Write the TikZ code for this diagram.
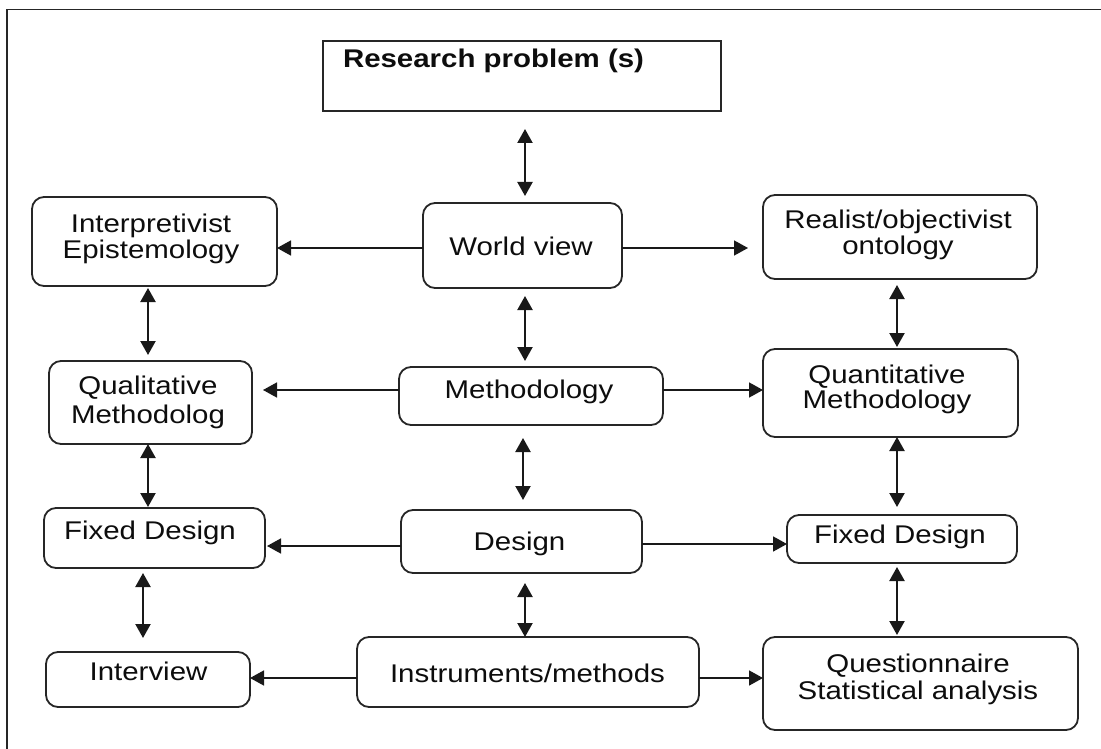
\documentclass[tikz,border=0pt]{standalone}
\usepackage{fontspec}
\setmainfont{Liberation Sans}[FakeStretch=1.15]
\usetikzlibrary{arrows.meta}

% two centred lines with a fixed baseline distance; the first line carries the baseline
\newcommand{\twolines}[3]{\vtop{\baselineskip=#1\lineskiplimit=-100pt\lineskip=0pt
  \halign{\hfil##\hfil\cr#2\cr#3\cr}}}

\tikzset{
  box/.style={draw=black!85, line width=1.8pt, rounded corners=12pt,
    inner sep=0pt, outer sep=0pt},
  plainbox/.style={draw=black!85, line width=1.8pt, inner sep=0pt, outer sep=0pt},
  txt/.style={inner sep=0pt, outer sep=0pt, anchor=base, text=black!95,
    font=\fontsize{25.6pt}{27pt}\selectfont},
  arr/.style={line width=1.6pt, draw=black!90, -{Triangle[length=14pt,width=15pt]}},
  dbl/.style={line width=2.2pt, draw=black!90,
    {Triangle[length=14pt,width=15pt]}-{Triangle[length=14pt,width=15pt]}},
  frameline/.style={line width=1.3pt, draw=black!85}
}

\begin{document}
\begin{tikzpicture}[x=1pt, y=-1pt]
  \fill[white] (0,0) rectangle (1101,749);
  \useasboundingbox (0,0) rectangle (1101,749);

  % outer frame (top and left edges)
  \draw[frameline] (7,749) -- (7,9.5) -- (1101,9.5);

  % boxes
  \node[plainbox, minimum width=398pt, minimum height=70pt] (rp) at (522,76) {};
  \node[box, minimum width=245pt, minimum height=89pt] (interp) at (154.5,241.5) {};
  \node[box, minimum width=199pt, minimum height=85pt] (wv) at (522.5,245.5) {};
  \node[box, minimum width=274pt, minimum height=84pt] (real) at (900,237) {};
  \node[box, minimum width=203pt, minimum height=83pt] (qual) at (150.5,402.5) {};
  \node[box, minimum width=264pt, minimum height=58pt] (meth) at (531,396) {};
  \node[box, minimum width=255pt, minimum height=88pt] (quant) at (890.5,393) {};
  \node[box, minimum width=221pt, minimum height=60pt] (fixL) at (154.5,538) {};
  \node[box, minimum width=241pt, minimum height=63pt] (design) at (521.5,541.5) {};
  \node[box, minimum width=230pt, minimum height=48pt] (fixR) at (902,539) {};
  \node[box, minimum width=204pt, minimum height=55pt] (intv) at (148,679.5) {};
  \node[box, minimum width=342pt, minimum height=70pt] (instr) at (528,672) {};
  \node[box, minimum width=315pt, minimum height=93pt] (qs) at (920.5,683.5) {};

  % labels
  \node[txt, anchor=base west, font=\fontsize{25.6pt}{27pt}\selectfont\bfseries] (trp) at (343,68) {Research problem (s)};
  \node[txt] (tinterp) at (151,232) {\twolines{27pt}{Interpretivist}{Epistemology}};
  \node[txt] (twv) at (521,255) {World view};
  \node[txt] (treal) at (898,228) {\twolines{27pt}{Realist/objectivist}{ontology}};
  \node[txt] (tqual) at (148,394) {\twolines{29pt}{Qualitative}{Methodolog}};
  \node[txt] (tmeth) at (529,398) {Methodology};
  \node[txt] (tquant) at (887,383) {\twolines{25pt}{Quantitative}{Methodology}};
  \node[txt] (tfixL) at (150,539) {Fixed Design};
  \node[txt] (tdesign) at (519.5,550) {Design};
  \node[txt] (tfixR) at (900,543) {Fixed Design};
  \node[txt] (tintv) at (148.5,680) {Interview};
  \node[txt] (tinstr) at (527.5,682) {Instruments/methods};
  \node[txt] (tqs) at (918,672) {\twolines{27pt}{Questionnaire}{Statistical analysis}};

  % vertical two-way links
  \draw[dbl, shorten <=18pt, shorten >=7pt] ([xshift=2.5pt]wv.north |- rp.south) -- ([xshift=2.5pt]wv.north);
  \draw[dbl, shorten <=8pt, shorten >=6pt] ([xshift=2.5pt]wv.south) -- ([xshift=2.5pt]wv.south |- meth.north);
  \draw[dbl, shorten <=13pt, shorten >=10pt] ([xshift=-8pt]meth.south) -- ([xshift=-8pt]meth.south |- design.north);
  \draw[dbl, shorten <=10pt] ([xshift=3.5pt]design.south) -- ([xshift=3.5pt]design.south |- instr.north);
  \draw[dbl, shorten <=2pt, shorten >=6pt] ([xshift=-6.5pt]interp.south) -- ([xshift=-6.5pt]interp.south |- qual.north);
  \draw[dbl, shorten >=1pt] ([xshift=-2.5pt]qual.south) -- ([xshift=-2.5pt]qual.south |- fixL.north);
  \draw[dbl, shorten <=5pt, shorten >=14pt] ([xshift=-11.5pt]fixL.south) -- ([xshift=-11.5pt]fixL.south |- intv.north);
  \draw[dbl, shorten <=6pt, shorten >=2pt] ([xshift=-3pt]real.south) -- ([xshift=-3pt]real.south |- quant.north);
  \draw[dbl, shorten >=8pt] ([xshift=6.5pt]quant.south) -- ([xshift=6.5pt]quant.south |- fixR.north);
  \draw[dbl, shorten <=4pt, shorten >=2pt] ([xshift=-5pt]fixR.south) -- ([xshift=-5pt]fixR.south |- qs.north);

  % horizontal one-way links
  \draw[arr] ([yshift=-2.5pt]wv.west) -- ([yshift=-2.5pt]wv.west -| interp.east);
  \draw[arr, shorten >=15pt] ([yshift=-2.5pt]wv.east) -- ([yshift=-2.5pt]wv.east -| real.west);
  \draw[arr, shorten >=11pt] ([yshift=6pt]meth.west) -- ([yshift=6pt]meth.west -| qual.east);
  \draw[arr] ([yshift=6pt]meth.east) -- ([yshift=6pt]meth.east -| quant.west);
  \draw[arr, shorten >=2pt] ([yshift=-4.5pt]design.west) -- ([yshift=-4.5pt]design.west -| fixL.east);
  \draw[arr] ([yshift=-2.5pt]design.east) -- ([yshift=-2.5pt]design.east -| fixR.west);
  \draw[arr] ([yshift=-6pt]instr.west) -- ([yshift=-6pt]instr.west -| intv.east);
  \draw[arr] ([yshift=-6pt]instr.east) -- ([yshift=-6pt]instr.east -| qs.west);
\end{tikzpicture}
\end{document}
